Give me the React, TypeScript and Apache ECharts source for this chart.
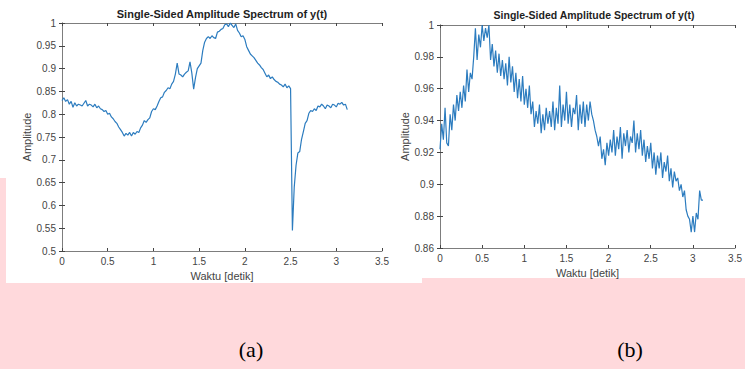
import React, { useEffect, useRef } from "react";
import * as echarts from "echarts";

// sampling step of the time axis (seconds)
const T_STEP = 0.02;

// (a) amplitude, t = 0 .. 3.12 s
const leftValues = [
  0.830, 0.836, 0.828, 0.832, 0.822, 0.828, 0.815, 0.825, 0.818, 0.822,
  0.820, 0.818, 0.824, 0.830, 0.818, 0.822, 0.820, 0.816, 0.822, 0.814,
  0.818, 0.812, 0.810, 0.806, 0.808, 0.800, 0.802, 0.794, 0.790, 0.784,
  0.780, 0.772, 0.766, 0.760, 0.752, 0.758, 0.754, 0.760, 0.752, 0.760,
  0.756, 0.762, 0.760, 0.770, 0.776, 0.786, 0.782, 0.788, 0.792, 0.806,
  0.812, 0.810, 0.818, 0.828, 0.836, 0.838, 0.848, 0.852, 0.858, 0.856,
  0.866, 0.872, 0.888, 0.912, 0.888, 0.886, 0.882, 0.888, 0.892, 0.895,
  0.915, 0.890, 0.855, 0.880, 0.900, 0.906, 0.912, 0.940, 0.958, 0.966,
  0.970, 0.966, 0.972, 0.968, 0.966, 0.980, 0.982, 0.986, 0.988, 0.996,
  0.998, 0.992, 1.000, 0.995, 0.990, 0.998, 0.984, 0.978, 0.970, 0.972,
  0.964, 0.948, 0.940, 0.932, 0.928, 0.924, 0.918, 0.912, 0.908, 0.902,
  0.898, 0.890, 0.882, 0.886, 0.878, 0.882, 0.876, 0.872, 0.870, 0.866,
  0.864, 0.860, 0.866, 0.858, 0.862, 0.856, 0.545, 0.640, 0.688, 0.715,
  0.718, 0.745, 0.762, 0.780, 0.786, 0.802, 0.808, 0.806, 0.812, 0.808,
  0.818, 0.816, 0.822, 0.818, 0.812, 0.820, 0.818, 0.814, 0.822, 0.820,
  0.816, 0.824, 0.822, 0.826, 0.820, 0.822, 0.810,
];

// (b) amplitude, t = 0 .. 3.12 s
const rightValues = [
  0.922, 0.938, 0.928, 0.948, 0.926, 0.924, 0.944, 0.934, 0.950, 0.940,
  0.956, 0.946, 0.958, 0.948, 0.962, 0.952, 0.972, 0.958, 0.970, 0.966,
  0.980, 0.998, 0.978, 0.994, 0.986, 1.000, 0.990, 0.998, 0.992, 1.000,
  0.978, 0.988, 0.974, 0.984, 0.970, 0.982, 0.968, 0.978, 0.966, 0.976,
  0.962, 0.980, 0.964, 0.974, 0.958, 0.970, 0.954, 0.966, 0.952, 0.968,
  0.950, 0.960, 0.948, 0.962, 0.944, 0.952, 0.936, 0.946, 0.938, 0.950,
  0.932, 0.944, 0.934, 0.948, 0.938, 0.946, 0.936, 0.952, 0.934, 0.948,
  0.938, 0.962, 0.936, 0.950, 0.940, 0.958, 0.938, 0.950, 0.936, 0.948,
  0.944, 0.956, 0.934, 0.950, 0.938, 0.952, 0.936, 0.950, 0.940, 0.952,
  0.944, 0.940, 0.934, 0.930, 0.924, 0.930, 0.916, 0.922, 0.912, 0.926,
  0.918, 0.928, 0.920, 0.934, 0.918, 0.930, 0.922, 0.936, 0.916, 0.932,
  0.924, 0.934, 0.920, 0.930, 0.926, 0.940, 0.920, 0.932, 0.922, 0.934,
  0.918, 0.928, 0.914, 0.924, 0.916, 0.926, 0.910, 0.920, 0.906, 0.918,
  0.910, 0.920, 0.904, 0.914, 0.908, 0.918, 0.902, 0.910, 0.898, 0.908,
  0.902, 0.904, 0.896, 0.900, 0.892, 0.896, 0.884, 0.880, 0.878, 0.870,
  0.880, 0.870, 0.882, 0.878, 0.896, 0.890, 0.890,
];

const xRange = [0, 3.5, 0.5]; // min, max, interval
const leftYRange = [0.5, 1, 0.05];
const rightYRange = [0.86, 1, 0.02];

const titleText = "Single-Sided Amplitude Spectrum of y(t)";
const xName = "Waktu [detik]";
const yName = "Amplitude";
const captions = ["(a)", "(b)"];

const FONT = '"Liberation Sans", Arial, sans-serif';
const LINE_COLOR = "#2c7cbf";
const BOX = "#7d7d7d";
const LABEL = "#444444";

function toPairs(vals: number[]) {
  return vals.map((v, i) => [Number((i * T_STEP).toFixed(2)), v]);
}

export default function App() {
  const ref = useRef<HTMLDivElement>(null);

  useEffect(() => {
    if (!ref.current) return;
    const chart = echarts.init(ref.current, null, { renderer: "svg" });

    const grids = [
      { left: 62, top: 23, width: 320, height: 228 },
      { left: 440, top: 25, width: 300, height: 223 },
    ];
    const yRanges = [leftYRange, rightYRange];
    const yNameGaps = [29, 25];

    const xAxes: any[] = [];
    const yAxes: any[] = [];
    grids.forEach((_, gi) => {
      const common = {
        type: "value",
        gridIndex: gi,
        min: xRange[0],
        max: xRange[1],
        interval: xRange[2],
        splitLine: { show: false },
        axisLine: { show: true, lineStyle: { color: BOX, width: 1 } },
        axisTick: { show: true, inside: true, length: 3, lineStyle: { color: "#444" } },
      };
      xAxes.push({
        ...common,
        position: "bottom",
        axisLabel: { fontSize: 10, color: LABEL, margin: 5, fontFamily: FONT },
        name: xName,
        nameLocation: "middle",
        nameGap: 18,
        nameTextStyle: { fontSize: 11, color: LABEL, fontFamily: FONT },
      });
      xAxes.push({
        ...common,
        position: "top",
        axisLabel: { show: false },
      });
      const yr = yRanges[gi];
      const ycommon = {
        type: "value",
        gridIndex: gi,
        min: yr[0],
        max: yr[1],
        interval: yr[2],
        splitLine: { show: false },
        axisLine: { show: true, lineStyle: { color: BOX, width: 1 } },
        axisTick: { show: true, inside: true, length: 3, lineStyle: { color: "#444" } },
      };
      yAxes.push({
        ...ycommon,
        position: "left",
        axisLabel: { fontSize: 10, color: LABEL, margin: 6, fontFamily: FONT },
        name: yName,
        nameLocation: "middle",
        nameGap: yNameGaps[gi],
        nameTextStyle: { fontSize: 11, color: LABEL, fontFamily: FONT },
      });
      yAxes.push({
        ...ycommon,
        position: "right",
        axisLabel: { show: false },
      });
    });

    const option: any = {
      animation: false,
      backgroundColor: "#ffd9dc",
      grid: grids.map((g) => ({ ...g, containLabel: false })),
      xAxis: xAxes,
      yAxis: yAxes,
      series: [
        {
          type: "line",
          xAxisIndex: 0,
          yAxisIndex: 0,
          data: toPairs(leftValues),
          showSymbol: false,
          lineStyle: { color: LINE_COLOR, width: 1.2 },
        },
        {
          type: "line",
          xAxisIndex: 2,
          yAxisIndex: 2,
          data: toPairs(rightValues),
          showSymbol: false,
          lineStyle: { color: LINE_COLOR, width: 1.2 },
        },
      ],
      graphic: [
        { type: "rect", z: -10, shape: { x: 6, y: 0, width: 416, height: 283 }, style: { fill: "#ffffff" } },
        { type: "rect", z: -10, shape: { x: 0, y: 0, width: 6, height: 178 }, style: { fill: "#ffffff" } },
        { type: "rect", z: -10, shape: { x: 420, y: 0, width: 325, height: 278 }, style: { fill: "#ffffff" } },
        {
          type: "text",
          x: 222,
          y: 14,
          style: {
            text: titleText,
            textAlign: "center",
            textVerticalAlign: "middle",
            font: `bold 11px ${FONT}`,
            fill: "#1f1f1f",
          },
        },
        {
          type: "text",
          x: 594,
          y: 15,
          style: {
            text: titleText,
            textAlign: "center",
            textVerticalAlign: "middle",
            font: `bold 10.5px ${FONT}`,
            fill: "#1f1f1f",
          },
        },
        {
          type: "text",
          x: 251,
          y: 349,
          style: {
            text: captions[0],
            textAlign: "center",
            textVerticalAlign: "middle",
            font: '22px "Liberation Serif", "Times New Roman", serif',
            fill: "#000",
          },
        },
        {
          type: "text",
          x: 630,
          y: 349,
          style: {
            text: captions[1],
            textAlign: "center",
            textVerticalAlign: "middle",
            font: '22px "Liberation Serif", "Times New Roman", serif',
            fill: "#000",
          },
        },
      ],
    };

    chart.setOption(option);
    return () => chart.dispose();
  }, []);

  return (
    <div
      ref={ref}
      style={{ position: "absolute", left: 0, top: 0, width: 745, height: 369 }}
    />
  );
}
